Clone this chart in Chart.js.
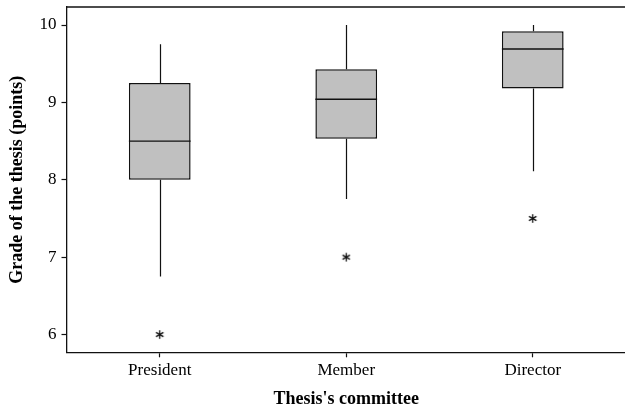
<!DOCTYPE html>
<html>
<head>
<meta charset="utf-8">
<script src="https://cdn.jsdelivr.net/npm/chart.js@4/dist/chart.umd.min.js"></script>
<style>
  html, body { margin: 0; padding: 0; background: #fff; overflow: hidden; }
  #wrap { position: relative; width: 632px; height: 410px; }
</style>
</head>
<body>
<div id="wrap"><canvas id="c" width="632" height="410"></canvas></div>
<script>
// Grade of the thesis by committee role (box plot summaries, points)
const committees    = ['President', 'Member', 'Director'];
const lowerWhisker  = [6.75, 7.75, 8.11];
const firstQuartile = [8.00, 8.53, 9.18];
const medians       = [8.50, 9.04, 9.69];
const thirdQuartile = [9.25, 9.43, 9.92];
const upperWhisker  = [9.75, 10.00, 10.00];
const outliers      = [6.0, 7.0, 7.5];
const gradeTicks    = [6, 7, 8, 9, 10];

const SERIF = "'Liberation Serif', 'Times New Roman', serif";
const INK = '#111';

// six-armed asterisk used as the outlier marker
function makeAsterisk() {
  const s = 11, c = s / 2, r = 4.3;
  const cv = document.createElement('canvas');
  cv.width = s; cv.height = s;
  const g = cv.getContext('2d');
  g.strokeStyle = INK;
  g.lineWidth = 1.3;
  g.lineCap = 'butt';
  [90, 30, 150].forEach(a => {
    const t = a * Math.PI / 180;
    g.beginPath();
    g.moveTo(c - r * Math.cos(t), c - r * Math.sin(t));
    g.lineTo(c + r * Math.cos(t), c + r * Math.sin(t));
    g.stroke();
  });
  return cv;
}

// whiskers, medians and the top frame line
const boxDetails = {
  id: 'boxDetails',
  afterDatasetsDraw(chart) {
    const y = chart.scales.y;
    const meta = chart.getDatasetMeta(0);
    const ctx = chart.ctx;
    ctx.save();
    ctx.strokeStyle = INK;
    meta.data.forEach((bar, i) => {
      const x = Math.round(bar.x) + 0.5;
      const half = bar.width / 2;
      ctx.lineWidth = 1.2;
      ctx.beginPath();
      ctx.moveTo(x, y.getPixelForValue(thirdQuartile[i]));
      ctx.lineTo(x, y.getPixelForValue(upperWhisker[i]));
      ctx.moveTo(x, y.getPixelForValue(firstQuartile[i]));
      ctx.lineTo(x, y.getPixelForValue(lowerWhisker[i]));
      ctx.stroke();
      ctx.lineWidth = 1.4;
      const ym = y.getPixelForValue(medians[i]);
      ctx.beginPath();
      ctx.moveTo(bar.x - half, ym);
      ctx.lineTo(bar.x + half, ym);
      ctx.stroke();
    });
    const a = chart.chartArea;
    ctx.lineWidth = 1.3;
    ctx.beginPath();
    ctx.moveTo(a.left, a.top);
    ctx.lineTo(a.right + 5, a.top);
    ctx.stroke();
    ctx.restore();
  }
};

new Chart(document.getElementById('c'), {
  type: 'bar',
  data: {
    labels: committees,
    datasets: [
      {
        label: 'Interquartile range',
        data: firstQuartile.map((q, i) => [q, thirdQuartile[i]]),
        backgroundColor: '#c0c0c0',
        borderColor: INK,
        borderWidth: 1.5,
        borderSkipped: false,
        barPercentage: 0.331,
        categoryPercentage: 1.0,
        order: 2
      },
      {
        type: 'line',
        label: 'Outliers',
        data: outliers,
        showLine: false,
        pointStyle: makeAsterisk(),
        pointRadius: 5,
        order: 1
      }
    ]
  },
  options: {
    responsive: false,
    animation: false,
    layout: { padding: { top: 7, right: 4, left: 0, bottom: 0 } },
    plugins: { legend: { display: false }, tooltip: { enabled: false } },
    scales: {
      x: {
        type: 'category',
        offset: true,
        grid: { display: true, drawOnChartArea: false, offset: false, tickLength: 5, tickColor: INK, tickWidth: 1.2 },
        border: { display: true, color: INK, width: 1.3 },
        ticks: { color: '#000', font: { family: SERIF, size: 17 }, padding: 3, maxRotation: 0 },
        title: {
          display: true,
          text: "Thesis's committee",
          color: '#000',
          font: { family: SERIF, size: 18, weight: 'bold' },
          padding: { top: 0, bottom: 0 }
        },
        afterFit(s) { s.height = 57.7; s.paddingLeft = 0; s.paddingRight = 0; }
      },
      y: {
        type: 'linear',
        min: 5.77,
        max: 10.233,
        afterBuildTicks(s) { s.ticks = gradeTicks.map(v => ({ value: v })); },
        grid: { display: true, drawOnChartArea: false, tickLength: 5, tickColor: INK, tickWidth: 1.2 },
        border: { display: true, color: INK, width: 1.3 },
        ticks: { color: '#000', font: { family: SERIF, size: 17 }, padding: 5 },
        title: {
          display: true,
          text: 'Grade of the thesis (points)',
          color: '#000',
          font: { family: SERIF, size: 18, weight: 'bold' },
          padding: { top: 7, bottom: 0 }
        },
        afterFit(s) { s.width = 66.5; s.paddingTop = 0; s.paddingBottom = 0; }
      }
    }
  },
  plugins: [boxDetails]
});
</script>
</body>
</html>
